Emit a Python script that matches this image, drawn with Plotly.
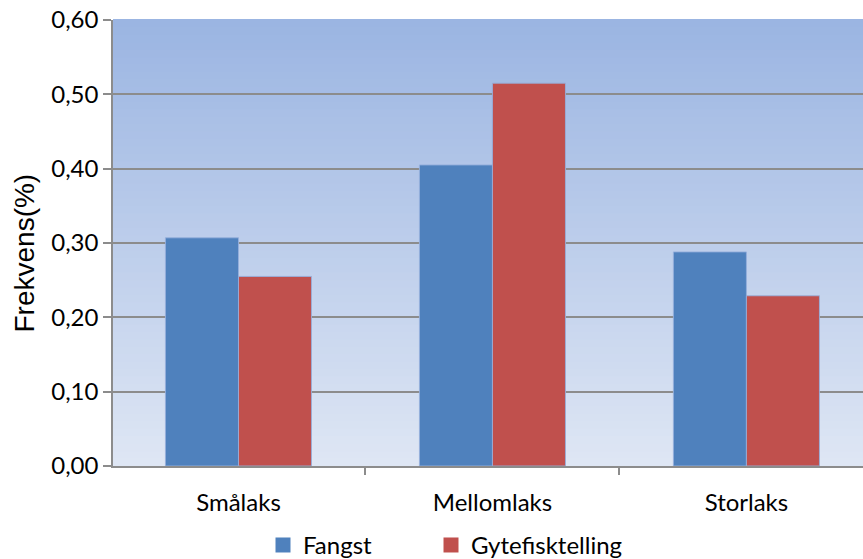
import plotly.graph_objects as go

# Data
categories = ["Smålaks", "Mellomlaks", "Storlaks"]
fangst = [0.307, 0.405, 0.288]
gytefisktelling = [0.255, 0.515, 0.229]
series_names = ["Fangst", "Gytefisktelling"]
y_ticks = [0.0, 0.1, 0.2, 0.3, 0.4, 0.5, 0.6]
y_tick_labels = ["0,00", "0,10", "0,20", "0,30", "0,40", "0,50", "0,60"]
y_title = "Frekvens(%)"

blue = "#4f81bd"
red = "#c0504d"
grid = "#8c8c8c"
label_font = "Lato, 'Open Sans', sans-serif"

fig = go.Figure()
fig.add_trace(go.Bar(x=categories, y=fangst, name=series_names[0], marker_color=blue,
                     marker_line=dict(color="rgba(150,175,220,0.9)", width=1), showlegend=False))
fig.add_trace(go.Bar(x=categories, y=gytefisktelling, name=series_names[1], marker_color=red,
                     marker_line=dict(color="rgba(150,175,220,0.9)", width=1), showlegend=False))

# Legend entries with larger square swatches, one legend box per series
for name, col, lg in zip(series_names, [blue, red], ["legend", "legend2"]):
    fig.add_trace(go.Scatter(x=[None], y=[None], mode="markers", name=name, legend=lg,
                             marker=dict(symbol="square", size=15, color=col)))

# Vertical gradient background of the plot area
top = (155, 181, 226)
bottom = (222, 230, 244)
n = 60
shapes = []
for i in range(n):
    t = i / (n - 1)
    c = tuple(round(bottom[k] + (top[k] - bottom[k]) * t) for k in range(3))
    shapes.append(dict(type="rect", xref="paper", yref="paper",
                       x0=0, x1=1, y0=i / n, y1=(i + 1) / n + 0.002,
                       fillcolor="rgb(%d,%d,%d)" % c, line_width=0, layer="below"))

legend_style = dict(orientation="h", y=-0.178, xanchor="left", yanchor="middle",
                    font=dict(family=label_font, size=24), itemwidth=30,
                    bgcolor="rgba(0,0,0,0)")

fig.update_layout(
    width=863, height=559,
    margin=dict(l=113, r=0, t=20, b=93, autoexpand=False),
    paper_bgcolor="white",
    plot_bgcolor="rgba(0,0,0,0)",
    barmode="group",
    bargap=0.425,
    bargroupgap=0,
    shapes=shapes,
    font=dict(family=label_font, size=24, color="black"),
    legend=dict(x=0.2, **legend_style),
    legend2=dict(x=0.424, **legend_style),
    xaxis=dict(type="category", range=[-0.494, 2.459], tickson="boundaries",
               ticks="outside", ticklen=7, tickcolor=grid, tickwidth=1.5,
               showline=True, linecolor=grid, linewidth=1.5, showgrid=False,
               tickfont=dict(family=label_font, size=24), ticklabelstandoff=14),
    yaxis=dict(range=[0, 0.6], tickvals=y_ticks, ticktext=y_tick_labels,
               ticks="outside", ticklen=8, tickcolor=grid, tickwidth=1.5,
               showline=True, linecolor=grid, linewidth=1.5,
               showgrid=True, gridcolor=grid, gridwidth=1.5, zeroline=False,
               tickfont=dict(family=label_font, size=24)),
    annotations=[dict(text=y_title, textangle=-90, xref="paper", yref="paper",
                      x=(24 - 113) / 750, y=(466 - 253.5) / 446, xanchor="center", yanchor="middle",
                      showarrow=False,
                      font=dict(family="'Liberation Sans', Arial, sans-serif", size=28))],
)

fig.write_html("out.html")
